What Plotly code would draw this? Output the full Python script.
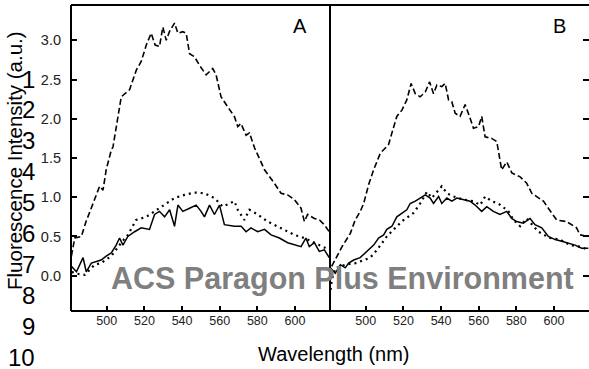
import plotly.graph_objects as go

# ---------------- data ----------------
a_dash_wl = [481.2, 483.0, 486.5, 489.0, 492.7, 496.2, 498.0, 499.7, 502.4, 503.3, 507.7, 512.1, 515.7, 518.3,
             521.0, 523.6, 525.7, 528.0, 529.8, 531.6, 533.3, 536.0, 537.8, 540.4, 542.2, 544.0, 546.6, 549.3,
             552.8, 556.3, 558.1, 560.7, 564.3, 567.8, 569.6, 571.3, 574.0, 575.8, 578.5, 583.8, 589.0, 592.6,
             596.1, 599.7, 603.2, 605.0, 606.7, 610.3, 613.0, 615.6, 618.2]
a_dash_val = [0.25, 0.48, 0.50, 0.69, 0.92, 1.14, 1.09, 1.35, 1.60, 1.64, 2.28, 2.37, 2.62, 2.73,
              2.94, 3.09, 2.94, 2.92, 3.17, 3.00, 3.11, 3.22, 3.09, 3.11, 3.09, 2.83, 2.79, 2.68,
              2.56, 2.64, 2.56, 2.28, 2.15, 2.03, 1.90, 1.94, 1.79, 1.82, 1.63, 1.35, 1.18, 1.05,
              1.03, 0.97, 0.86, 0.69, 0.78, 0.73, 0.71, 0.65, 0.56]

a_dot_wl = [481.5, 483.0, 488.3, 493.6, 497.0, 502.4, 507.7, 511.2, 515.6, 521.0, 525.4, 530.7, 536.0,
            541.3, 546.6, 551.9, 557.2, 561.6, 567.8, 569.6, 573.1, 575.8, 580.2, 585.5, 592.6, 599.7,
            605.0, 610.3, 615.6, 618.2]
a_dot_val = [0.05, 0.03, 0.01, 0.14, 0.16, 0.25, 0.42, 0.52, 0.71, 0.75, 0.82, 0.90, 0.99,
             1.03, 1.06, 1.05, 0.99, 0.88, 0.95, 0.84, 0.71, 0.84, 0.78, 0.69, 0.61, 0.52,
             0.48, 0.42, 0.35, 0.33]

a_sol_wl = [481.2, 483.9, 487.4, 489.1, 491.8, 494.4, 497.0, 499.7, 502.4, 505.0, 506.8, 508.6, 511.2,
            514.8, 518.3, 522.7, 525.4, 528.0, 530.7, 533.4, 536.0, 537.8, 540.4, 544.0, 547.5, 550.1,
            551.9, 554.6, 557.2, 559.9, 562.5, 567.8, 571.4, 574.0, 576.6, 580.2, 583.8, 587.3, 591.7,
            596.1, 599.7, 603.2, 605.8, 607.6, 610.3, 612.9, 615.6, 618.2]
a_sol_val = [0.12, 0.05, 0.23, 0.05, 0.16, 0.18, 0.20, 0.25, 0.29, 0.39, 0.48, 0.39, 0.50,
             0.56, 0.61, 0.59, 0.78, 0.82, 0.75, 0.84, 0.63, 0.90, 0.82, 0.86, 0.90, 0.82,
             0.75, 0.90, 0.78, 0.90, 0.65, 0.63, 0.63, 0.56, 0.61, 0.56, 0.59, 0.52, 0.48,
             0.42, 0.39, 0.37, 0.48, 0.37, 0.42, 0.31, 0.33, 0.23]

b_dash_wl = [481.9, 484.7, 487.4, 491.8, 494.4, 497.1, 498.9, 501.5, 504.2, 507.7, 512.1, 513.9, 516.5,
             519.2, 521.8, 524.1, 526.3, 528.9, 531.6, 533.9, 536.0, 537.8, 540.4, 542.2, 544.0, 545.7,
             547.5, 550.1, 552.8, 555.4, 557.2, 559.9, 561.6, 563.4, 566.9, 569.6, 572.2, 574.9, 577.6,
             582.0, 585.5, 588.2, 590.8, 594.4, 597.0, 601.4, 606.7, 612.0, 613.8, 618.2]
b_dash_val = [0.12, 0.25, 0.37, 0.54, 0.71, 0.82, 0.92, 1.16, 1.35, 1.56, 1.67, 1.82, 2.03,
              2.11, 2.24, 2.45, 2.32, 2.28, 2.34, 2.47, 2.32, 2.43, 2.41, 2.45, 2.24, 2.22,
              2.07, 2.03, 2.18, 2.01, 1.88, 1.90, 2.03, 1.77, 1.75, 1.71, 1.35, 1.45, 1.31,
              1.26, 1.18, 1.05, 1.01, 0.95, 0.86, 0.71, 0.69, 0.61, 0.52, 0.50]

b_dot_wl = [481.3, 482.0, 484.0, 489.3, 494.6, 502.4, 506.0, 511.2, 516.5, 520.1, 525.4, 528.9, 532.5,
            535.1, 540.4, 543.1, 546.6, 551.9, 557.2, 560.8, 563.4, 566.9, 570.5, 575.8, 578.5, 582.0,
            585.5, 591.7, 597.9, 603.2, 608.5, 613.8, 618.2]
b_dot_val = [-0.18, -0.05, 0.10, 0.14, 0.16, 0.23, 0.33, 0.50, 0.63, 0.71, 0.80, 0.92, 1.07,
             0.99, 1.14, 1.05, 1.01, 0.97, 0.95, 0.90, 1.01, 0.95, 0.92, 0.82, 0.71, 0.63,
             0.73, 0.56, 0.48, 0.46, 0.39, 0.37, 0.33]

b_sol_wl = [481.2, 483.8, 486.5, 489.1, 490.9, 493.6, 497.0, 500.6, 504.2, 506.8, 509.5, 511.2, 513.9,
            516.5, 519.2, 521.8, 523.6, 526.3, 528.9, 531.6, 534.2, 536.0, 538.7, 540.4, 543.1, 545.7,
            548.4, 551.9, 555.4, 558.1, 561.6, 564.3, 567.8, 571.3, 574.9, 577.5, 580.2, 583.7, 587.3,
            589.9, 593.5, 597.0, 600.6, 604.1, 607.6, 611.2, 614.7, 618.2]
b_sol_val = [0.10, 0.03, 0.14, 0.10, 0.16, 0.20, 0.23, 0.31, 0.39, 0.48, 0.52, 0.59, 0.63,
             0.75, 0.80, 0.84, 0.92, 0.95, 0.99, 1.03, 0.99, 0.92, 1.01, 0.92, 0.99, 0.95,
             0.99, 0.97, 0.95, 0.90, 0.82, 0.88, 0.82, 0.78, 0.82, 0.73, 0.69, 0.67, 0.73,
             0.65, 0.61, 0.50, 0.46, 0.44, 0.42, 0.39, 0.35, 0.35]

x_ticks = [500, 520, 540, 560, 580, 600]
y_ticks = [0.0, 0.5, 1.0, 1.5, 2.0, 2.5, 3.0]
x_range = [481, 618.6]
y_range = [-0.45, 3.45]
panel_labels = ["A", "B"]
line_numbers = [str(i) for i in range(1, 11)]

FONT = "Arial, Liberation Sans, sans-serif"

fig = go.Figure()

def add_panel(xa, ya, dash_wl, dash_val, dot_wl, dot_val, sol_wl, sol_val):
    fig.add_trace(go.Scatter(x=dash_wl, y=dash_val, mode="lines", xaxis=xa, yaxis=ya,
                             line=dict(color="black", width=1.6, dash="6px,3px"), showlegend=False))
    fig.add_trace(go.Scatter(x=dot_wl, y=dot_val, mode="lines", xaxis=xa, yaxis=ya,
                             line=dict(color="black", width=2.2, dash="2px,4px"), showlegend=False))
    fig.add_trace(go.Scatter(x=sol_wl, y=sol_val, mode="lines", xaxis=xa, yaxis=ya,
                             line=dict(color="black", width=1.5), showlegend=False))

add_panel("x", "y", a_dash_wl, a_dash_val, a_dot_wl, a_dot_val, a_sol_wl, a_sol_val)
add_panel("x2", "y2", b_dash_wl, b_dash_val, b_dot_wl, b_dot_val, b_sol_wl, b_sol_val)

xcommon = dict(range=x_range, tickvals=x_ticks, ticks="inside", ticklen=5, tickwidth=1.5,
               tickcolor="black", showgrid=False, zeroline=False, showline=False,
               tickfont=dict(family=FONT, size=12.5, color="#222"))
ycommon = dict(range=y_range, tickvals=y_ticks, tickformat=".1f", ticks="inside", ticklen=6,
               tickwidth=1.5, tickcolor="black", showgrid=False, zeroline=False, showline=False,
               tickfont=dict(family=FONT, size=14.5, color="#222"))

fig.update_layout(
    width=589, height=369,
    margin=dict(l=71, r=0, t=5, b=58),
    paper_bgcolor="white", plot_bgcolor="white",
    xaxis=dict(domain=[0, 0.5], anchor="y", **xcommon),
    xaxis2=dict(domain=[0.5, 1], anchor="y2", **xcommon),
    yaxis=dict(anchor="x", ticklabelstandoff=9, **ycommon),
    yaxis2=dict(anchor="x2", side="right", showticklabels=False, **ycommon),
)

# frame lines
for (x0, y0, x1, y1) in [(0, 0, 0, 1), (0, 0, 1, 0), (0, 1, 1, 1), (0.5, 0, 0.5, 1)]:
    fig.add_shape(type="line", xref="paper", yref="paper", x0=x0, y0=y0, x1=x1, y1=y1,
                  line=dict(color="black", width=2))

def px_x(px):
    return (px - 71) / 518

def px_y(py):
    return (311 - py) / 306

# panel labels
for lab, cx in zip(panel_labels, [300, 559]):
    fig.add_annotation(text=lab, xref="paper", yref="paper", x=px_x(cx), y=px_y(26),
                       xanchor="center", yanchor="middle", showarrow=False,
                       font=dict(family=FONT, size=20, color="black"))

# axis titles
fig.add_annotation(text="Wavelength (nm)", xref="paper", yref="paper", x=px_x(334), y=px_y(354),
                   xanchor="center", yanchor="middle", showarrow=False,
                   font=dict(family=FONT, size=20, color="black"))
fig.add_annotation(text="Fluorescence Intensity (a.u.)", xref="paper", yref="paper",
                   x=px_x(14), y=px_y(161), xanchor="center", yanchor="middle",
                   textangle=-90, showarrow=False, font=dict(family=FONT, size=20.5, color="black"))

# manuscript line numbers
for i, t in enumerate(line_numbers):
    ypx = 79 + 30.9 * i
    fig.add_annotation(text=t, xref="paper", yref="paper", x=px_x(37), y=px_y(ypx),
                       xanchor="right", yanchor="middle", showarrow=False,
                       font=dict(family=FONT, size=24, color="black"))

# watermark
fig.add_annotation(text="<b>ACS Paragon Plus Environment</b>", xref="paper", yref="paper",
                   x=px_x(342), y=px_y(278), xanchor="center", yanchor="middle", showarrow=False,
                   font=dict(family=FONT, size=30.5, color="#7f7f7f"))

fig.write_html("out.html")
